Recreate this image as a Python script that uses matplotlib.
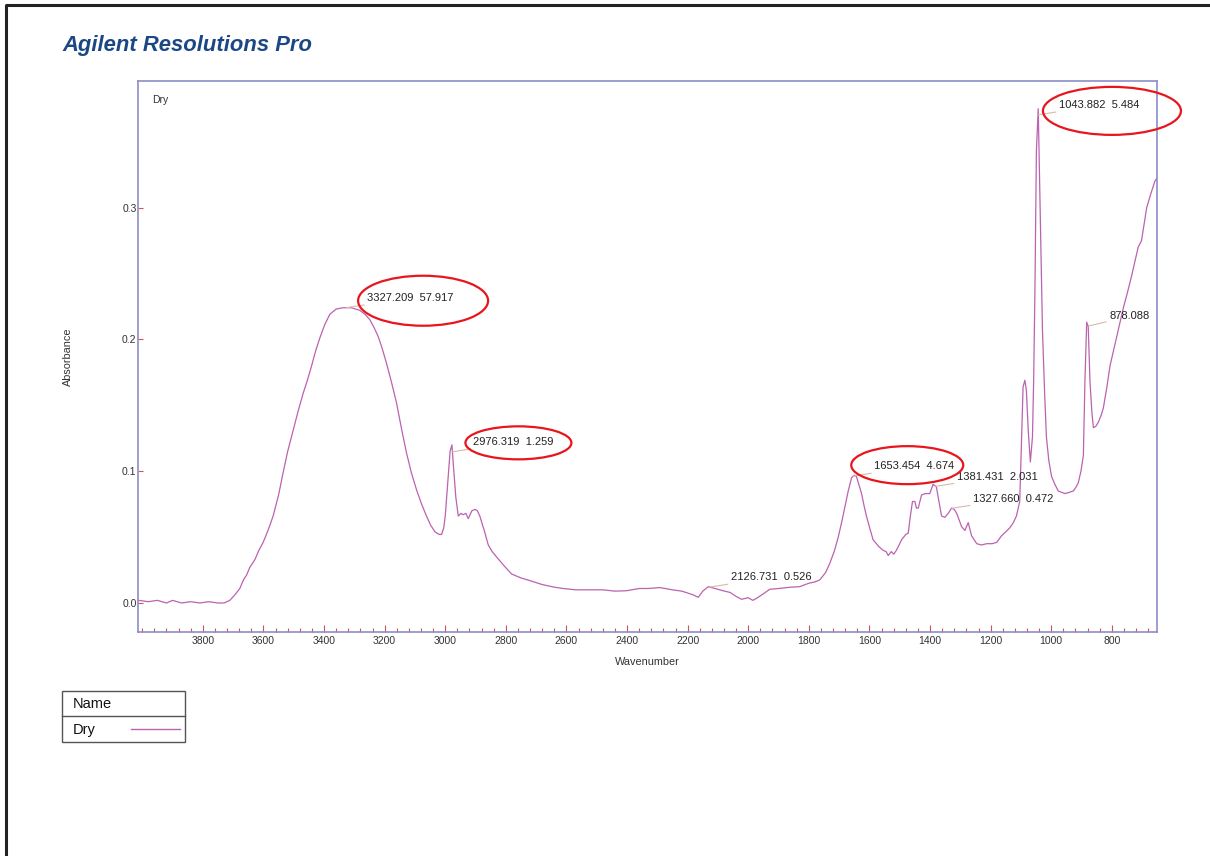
import numpy as np
import matplotlib
matplotlib.use("Agg")
import matplotlib.pyplot as plt
from matplotlib.patches import Ellipse, Rectangle
from matplotlib.lines import Line2D
from matplotlib.ticker import MultipleLocator
from matplotlib.transforms import IdentityTransform

# spectrum (wavenumber, absorbance)
wavenumber = [4012, 3980, 3950, 3920, 3900, 3870, 3840, 3810, 3780, 3750, 3730, 3711,
              3695, 3678, 3665, 3656, 3645, 3628, 3615, 3601, 3585, 3568, 3550, 3535,
              3520, 3502, 3485, 3469, 3455, 3441, 3428, 3414, 3398, 3381, 3360, 3337,
              3310, 3282, 3265, 3249, 3235, 3221, 3208, 3194, 3178, 3161, 3145, 3128,
              3112, 3095, 3078, 3062, 3048, 3034, 3020, 3012, 3005, 3000, 2992, 2984,
              2978, 2972, 2965, 2957, 2948, 2941, 2932, 2924, 2912, 2902, 2894, 2886,
              2870, 2858, 2845, 2831, 2805, 2781, 2750, 2721, 2680, 2640, 2611, 2570,
              2530, 2480, 2440, 2402, 2360, 2330, 2292, 2250, 2220, 2204, 2180, 2165,
              2150, 2132, 2110, 2083, 2060, 2040, 2022, 2000, 1985, 1973, 1950, 1929,
              1900, 1860, 1830, 1800, 1780, 1764, 1745, 1731, 1715, 1703, 1690, 1681,
              1670, 1659, 1650, 1643, 1635, 1626, 1618, 1610, 1598, 1588, 1570, 1555,
              1545, 1538, 1528, 1520, 1511, 1500, 1494, 1480, 1472, 1465, 1458, 1450,
              1445, 1439, 1428, 1415, 1401, 1390, 1384, 1379, 1373, 1362, 1351, 1340,
              1329, 1320, 1312, 1296, 1285, 1274, 1263, 1246, 1230, 1213, 1195, 1180,
              1164, 1150, 1137, 1125, 1115, 1104, 1098, 1093, 1087, 1082, 1076, 1069,
              1062, 1058, 1054, 1049, 1043, 1038, 1033, 1029, 1022, 1016, 1008, 999,
              988, 977, 966, 955, 940, 927, 918, 911, 902, 894, 889, 883,
              878, 872, 866, 861, 853, 845, 836, 828, 817, 806, 790, 776,
              762, 748, 735, 724, 713, 702, 693, 685, 672, 658, 652]
absorbance = [0.002, 0.001, 0.002, 0.000, 0.002, 0.000, 0.001, 0.000, 0.001, 0.000, 0.000, 0.002,
              0.006, 0.011, 0.018, 0.021, 0.027, 0.033, 0.040, 0.046, 0.055, 0.066, 0.082, 0.099,
              0.115, 0.131, 0.146, 0.159, 0.169, 0.180, 0.191, 0.201, 0.211, 0.219, 0.223, 0.224,
              0.224, 0.222, 0.219, 0.215, 0.209, 0.202, 0.193, 0.182, 0.168, 0.152, 0.133, 0.114,
              0.099, 0.086, 0.075, 0.066, 0.059, 0.054, 0.052, 0.052, 0.057, 0.066, 0.090, 0.115,
              0.120, 0.101, 0.080, 0.066, 0.068, 0.067, 0.068, 0.064, 0.070, 0.071, 0.070, 0.066,
              0.054, 0.044, 0.039, 0.035, 0.028, 0.022, 0.019, 0.017, 0.014, 0.012, 0.011, 0.010,
              0.010, 0.010, 0.009, 0.0093, 0.011, 0.011, 0.0117, 0.010, 0.009, 0.0079, 0.006, 0.0043,
              0.009, 0.0124, 0.011, 0.0093, 0.008, 0.005, 0.0028, 0.004, 0.002, 0.0035, 0.007, 0.0104,
              0.011, 0.012, 0.0124, 0.015, 0.016, 0.0175, 0.023, 0.030, 0.040, 0.050, 0.063, 0.073,
              0.085, 0.095, 0.097, 0.096, 0.090, 0.083, 0.074, 0.066, 0.056, 0.048, 0.043, 0.040,
              0.039, 0.036, 0.039, 0.037, 0.040, 0.045, 0.048, 0.052, 0.053, 0.066, 0.077, 0.077,
              0.072, 0.072, 0.082, 0.083, 0.083, 0.090, 0.089, 0.088, 0.080, 0.066, 0.065, 0.068,
              0.072, 0.071, 0.068, 0.058, 0.055, 0.061, 0.051, 0.045, 0.044, 0.045, 0.045, 0.046,
              0.051, 0.054, 0.057, 0.061, 0.066, 0.077, 0.126, 0.164, 0.169, 0.161, 0.131, 0.107,
              0.126, 0.170, 0.235, 0.343, 0.375, 0.316, 0.260, 0.207, 0.160, 0.126, 0.108, 0.096,
              0.090, 0.085, 0.084, 0.083, 0.084, 0.085, 0.088, 0.091, 0.100, 0.112, 0.167, 0.213,
              0.210, 0.167, 0.145, 0.133, 0.134, 0.137, 0.142, 0.148, 0.163, 0.180, 0.196, 0.210,
              0.224, 0.236, 0.248, 0.259, 0.270, 0.275, 0.288, 0.300, 0.310, 0.320, 0.322]

peak_wn = [3327.209, 2976.319, 2126.731, 1653.454, 1381.431, 1327.660, 1043.882, 878.088]
peak_labels = ["3327.209  57.917", "2976.319  1.259", "2126.731  0.526", "1653.454  4.674",
               "1381.431  2.031", "1327.660  0.472", "1043.882  5.484", "878.088"]
circled = [3327.209, 2976.319, 1653.454, 1043.882]

y_ticks = [0.0, 0.1, 0.2, 0.3]
series_name = "Dry"

W, H = 1210, 856
LINE = "#bb62b0"
TICK = "#d85050"
FONT = "Liberation Sans"
plt.rcParams['font.family'] = [FONT, 'DejaVu Sans']


def fx(x):
    return x / W


def fy(y):
    return 1 - y / H


fig = plt.figure(figsize=(W / 100, H / 100), dpi=100)
fig.patch.set_facecolor("white")

ax = fig.add_axes([fx(138), fy(632), (1157 - 138) / W, (632 - 81) / H])
ax.plot(wavenumber, absorbance, color=LINE, lw=0.9)
ax.set_xlim(4014, 651)
ax.set_ylim(-0.022, 0.396)

ax.set_xticks([t for t in range(800, 4000, 200)])
ax.xaxis.set_minor_locator(MultipleLocator(40))
ax.set_yticks(y_ticks)
ax.set_yticklabels([f"{t:.1f}" for t in y_ticks])
ax.tick_params(axis="x", which="major", direction="in", length=5, width=0.8,
               color=TICK, labelsize=7.5, labelcolor="#333333", pad=3)
ax.tick_params(axis="x", which="minor", direction="in", length=3, width=0.8, color=TICK)
ax.tick_params(axis="y", which="major", direction="in", length=3.5, width=0.8,
               color=TICK, labelsize=7.5, labelcolor="#333333", pad=1)
for s in ax.spines.values():
    s.set_color("#8c8cc8")
    s.set_linewidth(1.2)

ax.set_xlabel("Wavenumber", fontsize=7.8, color="#333333")
ax.xaxis.set_label_coords(0.4995, -0.045)
ax.xaxis.label.set_va("top")
ax.set_ylabel("Absorbance", fontsize=7.8, color="#333333")
ax.yaxis.set_label_coords(-0.064, 0.5)
ax.text(0.014, 0.966, series_name, transform=ax.transAxes, fontsize=7.5,
        color="#333333", va="center")

# peak labels with leader lines
rev_wn = wavenumber[::-1]
rev_ab = absorbance[::-1]
for wn, lbl in zip(peak_wn, peak_labels):
    a = float(np.interp(wn, rev_wn, rev_ab))
    ax.annotate(lbl, xy=(wn, a), xytext=(15, 7), textcoords="offset points",
                fontsize=8, color="#222222", ha="left", va="center",
                arrowprops=dict(arrowstyle="-", color="#dcb9a6", lw=0.8,
                                shrinkA=0, shrinkB=0))

# red ellipses around some labels (offsets / sizes in pixels from the peak)
ell_geom = {3327.209: (77, 7, 130, 50), 2976.319: (66, 9, 106, 33),
            1653.454: (54, 11, 112, 38), 1043.882: (74, 4, 138, 48)}
for wn in circled:
    a = float(np.interp(wn, rev_wn, rev_ab))
    px, py = ax.transData.transform((wn, a))
    dx, dy, ew, eh = ell_geom[wn]
    e = Ellipse((px + dx, py + dy), ew, eh, fill=False, edgecolor="#e8161c",
                lw=1.6, transform=IdentityTransform())
    fig.add_artist(e)

# title
fig.text(fx(62), fy(45), "Agilent Resolutions Pro", fontsize=15.8, fontweight="bold",
         fontstyle="italic", color="#1b4784", va="center", ha="left")

# legend table
fig.add_artist(Rectangle((fx(62), fy(742)), (185 - 62) / W, (742 - 691) / H,
                         transform=fig.transFigure, fill=False, edgecolor="#555555", lw=1.0))
fig.add_artist(Line2D([fx(62), fx(185)], [fy(716), fy(716)], transform=fig.transFigure,
                      color="#555555", lw=1.0))
fig.text(fx(73), fy(704), "Name", fontsize=10.5, color="#111111", va="center")
fig.text(fx(73), fy(730), series_name, fontsize=10.5, color="#111111", va="center")
fig.add_artist(Line2D([fx(131), fx(180)], [fy(729), fy(729)], transform=fig.transFigure,
                      color=LINE, lw=1.0))

# page frame (left and top edges)
fig.add_artist(Line2D([fx(6), fx(6), fx(W)], [fy(H), fy(5), fy(5)], transform=fig.transFigure,
                      color="#222222", lw=2.2))

fig.savefig("out.png", dpi=100, facecolor="white")
